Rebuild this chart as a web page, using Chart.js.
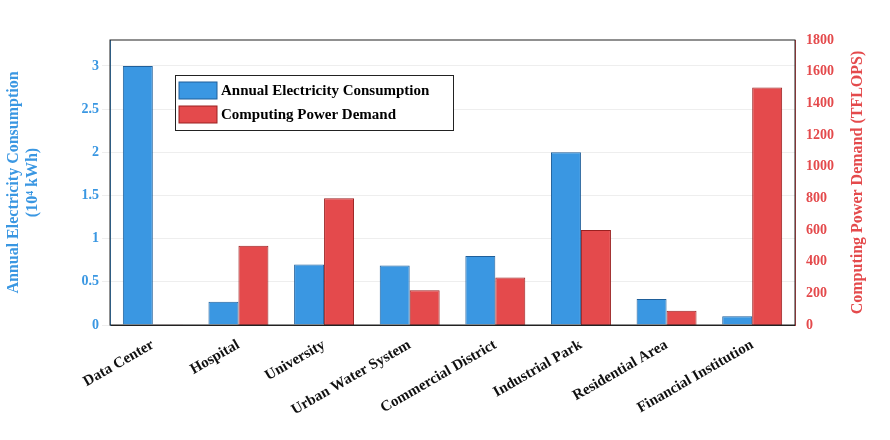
<!DOCTYPE html>
<html><head><script src="https://cdn.jsdelivr.net/npm/chart.js@4"></script>
<style>body{margin:0;background:#fff}#w{width:890px;height:440px;position:relative}</style></head>
<body><div id="w"><canvas id="c"></canvas></div>
<script>
const categories=["Data Center","Hospital","University","Urban Water System","Commercial District","Industrial Park","Residential Area","Financial Institution"];
const electricity=[3.0,0.27,0.70,0.69,0.80,2.0,0.30,0.10];
const computing=[2,500,800,220,300,600,90,1500];
const leftTicks=[0,0.5,1,1.5,2,2.5,3];
const F="'Liberation Serif','Times New Roman',serif";
const blue='#3a97e2',red='#e44a4c';
const deco={id:'deco',afterDraw(c){const x=c.ctx;const a=c.chartArea;x.save();
x.strokeStyle='#222';x.lineWidth=1;x.strokeRect(a.left,a.top,a.right-a.left,a.bottom-a.top);
// legend
const lx=175,ly=75;x.fillStyle='#fff';x.fillRect(lx,ly,278,55);x.strokeRect(lx+.5,ly+.5,278,55);
x.font="bold 15px "+F;x.textBaseline='middle';
[[blue,'#1f5f9a','Annual Electricity Consumption'],[red,'#9a2020','Computing Power Demand']].forEach((d,i)=>{
const yy=ly+7+i*24;x.fillStyle=d[0];x.fillRect(lx+4,yy,38,17);x.strokeStyle=d[1];x.strokeRect(lx+4,yy,38,17);
x.fillStyle='#000';x.fillText(d[2],lx+46,yy+9);});
// right title
x.translate(858,(a.top+a.bottom)/2);x.rotate(-Math.PI/2);x.textAlign='center';x.fillStyle=red;x.font="bold 16px "+F;
x.fillText('Computing Power Demand (TFLOPS)',0,0);
x.restore();}};
new Chart(document.getElementById('c'),{type:'bar',
data:{labels:categories,datasets:[
{label:'Annual Electricity Consumption',data:electricity,backgroundColor:blue,borderColor:'#1f5f9a',borderWidth:1,yAxisID:'y',categoryPercentage:0.7,barPercentage:1},
{label:'Computing Power Demand',data:computing,backgroundColor:red,borderColor:'#9a2020',borderWidth:1,yAxisID:'y1',categoryPercentage:0.7,barPercentage:1}]},
options:{responsive:true,maintainAspectRatio:false,animation:false,
layout:{padding:{top:40,left:0,right:0,bottom:0}},
plugins:{legend:{display:false},tooltip:{enabled:false}},
scales:{
x:{grid:{display:false},border:{color:'#222'},afterFit(s){s.height=115;},ticks:{color:'#111',font:{family:F,size:15,weight:'bold'},maxRotation:30,minRotation:30,autoSkip:false}},
y:{position:'left',min:0,max:3.3,afterBuildTicks(s){s.ticks=leftTicks.map(v=>({value:v}));},afterFit(s){s.width=110;},
 grid:{color:'#eee'},border:{color:blue},ticks:{color:blue,font:{family:F,size:14,weight:'bold'},callback:v=>String(v)},
 title:{display:true,text:['Annual Electricity Consumption','(10⁴ kWh)'],color:blue,font:{family:F,size:16,weight:'bold'},padding:4}},
y1:{position:'right',min:0,max:1800,afterFit(s){s.width=95;},ticks:{stepSize:200,color:red,font:{family:F,size:14,weight:'bold'},callback:v=>String(v)},grid:{display:false},border:{color:red}}}},
plugins:[deco]});
</script></body></html>
